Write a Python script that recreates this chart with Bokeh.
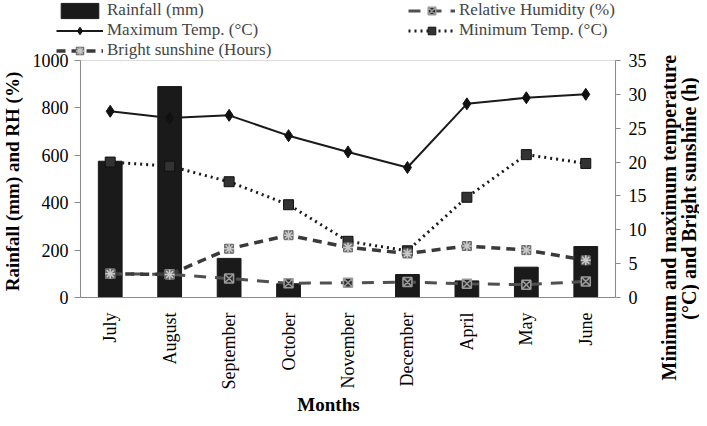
from math import pi
from bokeh.plotting import figure
from bokeh.models import (Range1d, LinearAxis, Legend, LegendItem, Label,
                          FixedTicker, BoxAnnotation)
from bokeh.embed import file_html
from bokeh.resources import INLINE

months = ["July", "August", "September", "October", "November",
          "December", "April", "May", "June"]
rainfall = [575, 890, 165, 58, 0, 97, 70, 128, 215]
rel_humidity = [100, 98, 80, 60, 62, 65, 58, 54, 68]
max_temp = [27.5, 26.5, 26.9, 23.9, 21.5, 19.2, 28.6, 29.5, 30.0]
min_temp = [20.0, 19.4, 17.1, 13.7, 8.3, 6.9, 14.8, 21.1, 19.8]
sunshine = [3.5, 3.4, 7.2, 9.2, 7.4, 6.5, 7.6, 7.0, 5.5]

left_ticks = [0, 200, 400, 600, 800, 1000]
right_ticks = [0, 5, 10, 15, 20, 25, 30, 35]

FONT = "Liberation Serif"
AXIS_COL = "#8a8a8a"

# canvas / plot-box geometry (pixels)
W, H = 699, 418
BOX_L, BOX_R, BOX_T, BOX_B = 80, 615, 60, 297
n = len(months)
step = (BOX_R - BOX_L) / n
RAIN_MAX, TEMP_MAX = 1000, 35

def xd(px):
    return (px - BOX_L) / step

def yd(py, top=RAIN_MAX):
    return (BOX_B - py) * top / (BOX_B - BOX_T)

pos = [i + 0.5 for i in range(n)]   # category centres

p = figure(width=W, height=H, min_border=0,
           x_range=Range1d(xd(0), xd(W)), y_range=Range1d(yd(H), yd(0)),
           x_axis_type=None, y_axis_type=None,
           output_backend="svg", toolbar_location=None,
           background_fill_color="white", border_fill_color="white")
p.extra_y_ranges = {"temp": Range1d(yd(H, TEMP_MAX), yd(0, TEMP_MAX))}
p.outline_line_color = None
p.grid.visible = False

# plot box
p.add_layout(BoxAnnotation(left=0, right=n, bottom=0, top=RAIN_MAX,
                           fill_color=None, line_color=AXIS_COL,
                           line_width=1.2, level="underlay"))

r_bar = p.vbar(x=pos, top=rainfall, width=0.4, color="#1a1a1a")
r_max_l = p.line(pos, max_temp, y_range_name="temp", color="#1a1a1a", line_width=2)
r_max_m = p.scatter(pos, max_temp, y_range_name="temp", marker="diamond",
                    size=12, color="#111111")
r_min_l = p.line(pos, min_temp, y_range_name="temp", color="#1a1a1a",
                 line_width=3, line_dash="2 4")
r_min_m = p.scatter(pos, min_temp, y_range_name="temp", marker="square",
                    size=10, fill_color="#333333", line_color="#111111")
r_rh_l = p.line(pos, rel_humidity, color="#505050", line_width=3, line_dash="12 9")
r_rh_m = p.scatter(pos, rel_humidity, marker="square_x", size=9,
                   fill_color="#2a2a2a", line_color="#9a9a9a", line_width=1.5)
r_sun_l = p.line(pos, sunshine, y_range_name="temp", color="#3a3a3a",
                 line_width=3.5, line_dash="9 6")
r_sun_m = p.scatter(pos, sunshine, y_range_name="temp", marker="square",
                    size=9, fill_color="#6a6a6a", line_color="#6a6a6a")
r_sun_a = p.scatter(pos, sunshine, y_range_name="temp", marker="asterisk",
                    size=10, line_color="#c8c8c8", line_width=1.5)

def style_axis(ax):
    ax.major_label_text_font = FONT
    ax.major_label_text_font_size = "18px"
    ax.major_label_text_color = "black"
    ax.axis_line_color = AXIS_COL
    ax.major_tick_line_color = AXIS_COL
    ax.major_tick_in = 0
    ax.minor_tick_line_color = None
    ax.axis_label = None

# left axis
ya = LinearAxis(fixed_location=0, bounds=(0, RAIN_MAX),
                ticker=FixedTicker(ticks=left_ticks))
style_axis(ya)
ya.major_tick_out = 6
ya.major_label_standoff = 6
p.add_layout(ya, "left")

# right axis
ra = LinearAxis(y_range_name="temp", fixed_location=n, bounds=(0, TEMP_MAX),
                ticker=FixedTicker(ticks=right_ticks))
style_axis(ra)
ra.major_tick_out = 5
ra.major_label_standoff = 8
p.add_layout(ra, "right")

# bottom axis with month names
xa = LinearAxis(fixed_location=0, bounds=(0, n),
                ticker=FixedTicker(ticks=pos),
                major_label_overrides={x: m for x, m in zip(pos, months)})
style_axis(xa)
xa.major_tick_line_color = None
xa.major_label_orientation = pi / 2
xa.major_label_standoff = 9
p.add_layout(xa, "below")

def title(text, px, py, align="center", size="19px"):
    p.add_layout(Label(x=xd(px), y=yd(py), text=text, angle=pi / 2,
                       text_align=align, text_baseline="middle",
                       text_font=FONT, text_font_style="bold",
                       text_font_size=size, text_color="black"))

title("Rainfall (mm) and RH (%)", 12, 181)
title("Minimum and maximum temperature", 668, 380, align="left", size="20px")
title("(\u00b0C) and Bright sunshine (h)", 688, 198, size="20px")
p.add_layout(Label(x=xd(328), y=yd(404), text="Months",
                   text_align="center", text_baseline="middle",
                   text_font=FONT, text_font_style="bold",
                   text_font_size="19px", text_color="black"))

legend = Legend(items=[
    LegendItem(label="Rainfall (mm)", renderers=[r_bar]),
    LegendItem(label="Maximum Temp. (\u00b0C)", renderers=[r_max_l, r_max_m]),
    LegendItem(label="Bright sunshine (Hours)", renderers=[r_sun_l, r_sun_m, r_sun_a]),
    LegendItem(label="Relative Humidity (%)", renderers=[r_rh_l, r_rh_m]),
    LegendItem(label="Minimum Temp. (\u00b0C)", renderers=[r_min_l, r_min_m]),
], location=(56, H - 60), orientation="vertical", ncols=2,
    glyph_width=47, glyph_height=19, label_height=19, label_width=301,
    label_standoff=4, spacing=0, padding=0, margin=0,
    label_text_font=FONT, label_text_font_size="17px",
    border_line_color=None, background_fill_alpha=0)
p.add_layout(legend, "center")

open("out.html", "w").write(file_html(p, INLINE))
